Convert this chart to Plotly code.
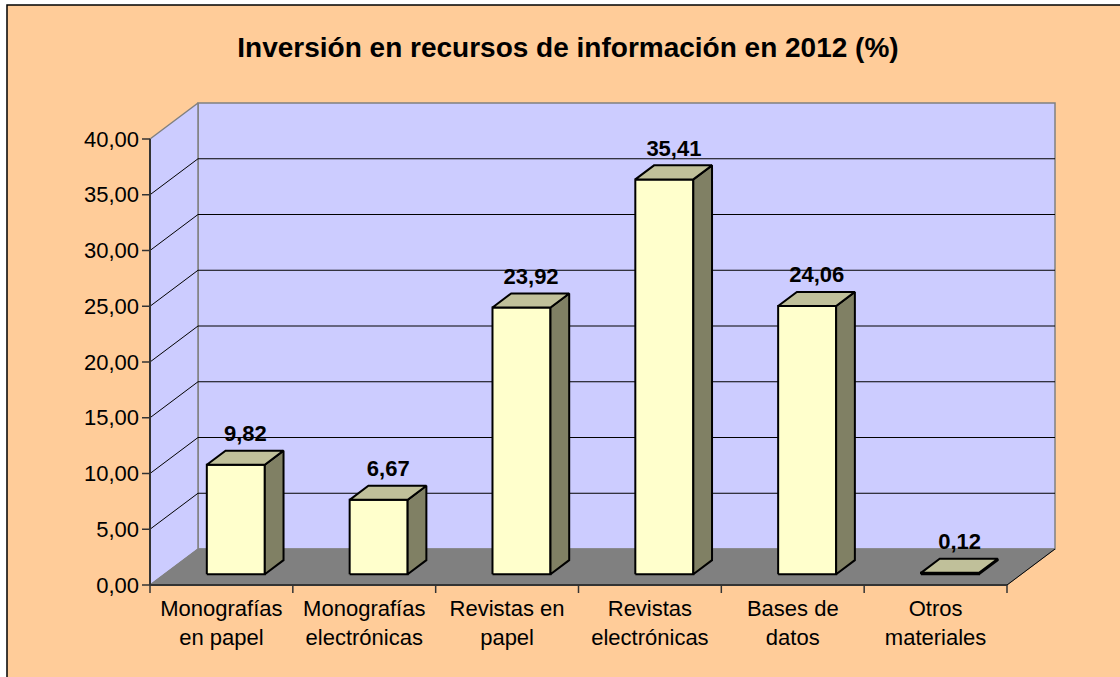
import plotly.graph_objects as go

# Data
categories = ["Monografías<br>en papel", "Monografías<br>electrónicas", "Revistas en<br>papel",
              "Revistas<br>electrónicas", "Bases de<br>datos", "Otros<br>materiales"]
values = [9.82, 6.67, 23.92, 35.41, 24.06, 0.12]
value_labels = ["9,82", "6,67", "23,92", "35,41", "24,06", "0,12"]
y_ticks = [0, 5, 10, 15, 20, 25, 30, 35, 40]
title_text = "Inversión en recursos de información en 2012 (%)"

# Layout geometry (pixels)
FIG_W, FIG_H = 1120, 677
CAT_PX = 142.83          # width of one category on the front plane
UNIT_PX = 11.15          # pixels per percentage point
X0_PX, Y0_PX = 150, 585  # origin of the front plane
DEPTH_PX = (48, 36)      # oblique depth offset of the back wall
TICK_PX = 8

D = DEPTH_PX[0] / CAT_PX      # depth shift in x units
DY = DEPTH_PX[1] / UNIT_PX    # depth shift in y units
n = len(values)
ymax_val = 40

L = X0_PX - TICK_PX
R_px = X0_PX + (n + D) * CAT_PX + 5
T_px = 98
B_px = Y0_PX + TICK_PX
x_range = [-TICK_PX / CAT_PX, (R_px - X0_PX) / CAT_PX]
y_range = [-TICK_PX / UNIT_PX, (Y0_PX - T_px) / UNIT_PX]
W = R_px - L
H = B_px - T_px

WALL = "#CCCCFF"
FLOOR = "#808080"
EDGE = "#808080"
AXIS = "#333333"
FRONT = "#FFFFCC"
TOP = "#C0C09A"
SIDE = "#808064"
FONT = "Liberation Sans, Arial, sans-serif"

fig = go.Figure()


def poly_trace(polys, fill, line_color, line_width):
    xs, ys = [], []
    for p in polys:
        for (x, y) in p + [p[0]]:
            xs.append(x)
            ys.append(y)
        xs.append(None)
        ys.append(None)
    return go.Scatter(x=xs, y=ys, mode="lines", fill="toself", fillcolor=fill,
                      line=dict(color=line_color, width=line_width),
                      hoverinfo="skip", showlegend=False)


def line_trace(segs, color, width):
    xs, ys = [], []
    for (a, b) in segs:
        xs += [a[0], b[0], None]
        ys += [a[1], b[1], None]
    return go.Scatter(x=xs, y=ys, mode="lines", line=dict(color=color, width=width),
                      hoverinfo="skip", showlegend=False)


# Walls and floor
back_wall = [(D, DY), (n + D, DY), (n + D, ymax_val + DY), (D, ymax_val + DY)]
side_wall = [(0, 0), (D, DY), (D, ymax_val + DY), (0, ymax_val)]
floor = [(0, 0), (n, 0), (n + D, DY), (D, DY)]
fig.add_trace(poly_trace([back_wall], WALL, EDGE, 1.5))
fig.add_trace(poly_trace([side_wall], WALL, EDGE, 1.5))
fig.add_trace(poly_trace([floor], FLOOR, FLOOR, 1))

# Gridlines on back and side walls
grid_vals = [v for v in y_ticks if 0 < v < ymax_val]
fig.add_trace(line_trace([((D, v + DY), (n + D, v + DY)) for v in grid_vals], "#000000", 1))
fig.add_trace(line_trace([((0, v), (D, v + DY)) for v in grid_vals], "#000000", 1))
fig.add_trace(line_trace([((n, 0), (n + D, DY))], "#000000", 1))

# Axis lines and ticks
fig.add_trace(line_trace([((0, 0), (0, ymax_val)), ((0, 0), (n, 0))], AXIS, 2))
fig.add_trace(line_trace([((x_range[0], v), (0, v)) for v in y_ticks], AXIS, 1.5))
fig.add_trace(line_trace([((k, 0), (k, y_range[0])) for k in range(n + 1)], AXIS, 1.5))

# 3D bars
BAR_W = 0.406
F1, F2 = 0.30, 0.69
gap = (1 - BAR_W) / 2
fronts, sides, tops = [], [], []
for i, v in enumerate(values):
    x0 = i + gap + F1 * D
    x1 = x0 + BAR_W
    y0 = F1 * DY
    dd, ddy = (F2 - F1) * D, (F2 - F1) * DY
    fronts.append([(x0, y0), (x1, y0), (x1, y0 + v), (x0, y0 + v)])
    sides.append([(x1, y0), (x1 + dd, y0 + ddy), (x1 + dd, y0 + ddy + v), (x1, y0 + v)])
    tops.append([(x0, y0 + v), (x1, y0 + v), (x1 + dd, y0 + v + ddy), (x0 + dd, y0 + v + ddy)])
fig.add_trace(poly_trace(fronts, FRONT, "#000000", 2))
fig.add_trace(poly_trace(sides, SIDE, "#000000", 2))
fig.add_trace(poly_trace(tops, TOP, "#000000", 2))

# Value labels
fig.add_trace(go.Scatter(
    x=[i + 0.5 + 0.5 * D for i in range(n)],
    y=[v + 0.8 * DY for v in values],
    mode="text", text=value_labels, textposition="top center",
    textfont=dict(family=FONT, size=22, color="#000000"),
    texttemplate="<b>%{text}</b>", cliponaxis=False,
    hoverinfo="skip", showlegend=False))

# Chart background with border
fig.add_shape(type="rect", xref="paper", yref="paper", layer="below",
              x0=(7 - L) / W, x1=(FIG_W + 10 - L) / W,
              y0=1 - (FIG_H + 10 - T_px) / H, y1=1 - (5 - T_px) / H,
              fillcolor="#FFCC99", line=dict(color="#000000", width=1.5))

fig.update_layout(
    width=FIG_W, height=FIG_H,
    margin=dict(l=L, r=FIG_W - R_px, t=T_px, b=FIG_H - B_px, pad=0),
    paper_bgcolor="#FFFFFF", plot_bgcolor="rgba(0,0,0,0)",
    separators=",.",
    hovermode=False, showlegend=False,
    title=dict(text="<b>" + title_text + "</b>", x=568 / FIG_W, xref="container",
               xanchor="center", y=1 - 47 / FIG_H, yref="container", yanchor="middle",
               font=dict(family=FONT, size=28, color="#000000")),
    xaxis=dict(range=x_range, tickmode="array", tickvals=[i + 0.5 for i in range(n)],
               ticktext=categories, ticks="", showgrid=False, zeroline=False, showline=False,
               tickfont=dict(family=FONT, size=22, color="#000000"), fixedrange=True),
    yaxis=dict(range=y_range, tickmode="array", tickvals=y_ticks, tickformat=".2f",
               ticks="", showgrid=False, zeroline=False, showline=False,
               ticklabelstandoff=2,
               tickfont=dict(family=FONT, size=22, color="#000000"), fixedrange=True),
)

fig.write_html("out.html")
